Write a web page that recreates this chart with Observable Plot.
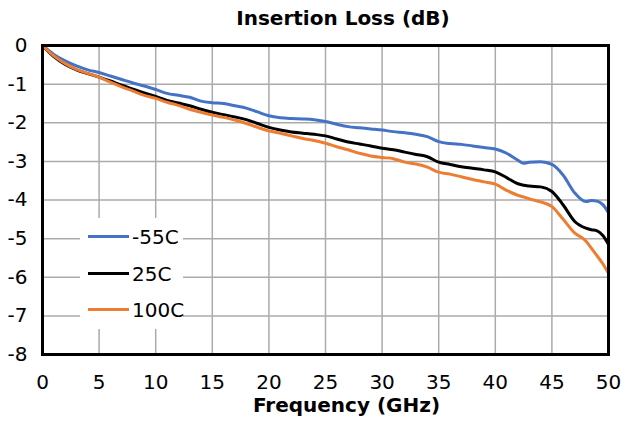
<!DOCTYPE html>
<html>
<head>
<meta charset="utf-8">
<script src="https://cdn.jsdelivr.net/npm/d3@7"></script>
<script src="https://cdn.jsdelivr.net/npm/@observablehq/plot@0.6"></script>
<style>
  html, body { margin: 0; padding: 0; background: white; }
  #wrap { position: relative; width: 625px; height: 423px; font-family: "DejaVu Sans", sans-serif; color: black; }
  #title { position: absolute; top: 8px; left: 0; width: 625px; text-align: center; font-weight: bold; font-size: 20px; line-height: 20px; padding-left: 61px; box-sizing: border-box; }
  #xlabel { position: absolute; top: 395px; left: 0; width: 625px; text-align: center; font-weight: bold; font-size: 20px; line-height: 20px; padding-left: 68px; box-sizing: border-box; }
  #chart { position: absolute; top: 30px; left: 0; }
  #legend { position: absolute; left: 80px; top: 218px; width: 103px; height: 111px; background: white; }
  .row { position: absolute; left: 0; width: 103px; height: 0; }
  .swatch { position: absolute; left: 8px; width: 41px; height: 3px; top: -1.5px; }
  .lab { position: absolute; left: 52px; top: -9.6px; font-size: 20px; line-height: 20px; white-space: nowrap; }
</style>
</head>
<body>
<div id="wrap">
  <div id="title"></div>
  <div id="chart"></div>
  <div id="xlabel"></div>
  <div id="legend"></div>
</div>
<script>
const titleText = "Insertion Loss (dB)";
const xLabelText = "Frequency (GHz)";
const seriesNames = ["-55C", "25C", "100C"];
const seriesColors = ["#4472C4", "#000000", "#ED7D31"];
const xTicks = [0, 5, 10, 15, 20, 25, 30, 35, 40, 45, 50];
const yTicks = [0, -1, -2, -3, -4, -5, -6, -7, -8];

const freq = [0,1,2,3,4,5,6,7,8,9,10,11,12,13,14,15,16,17,18,19,20,21,22,23,24,25,26,27,28,29,30,31,32,33,34,35,36,37,38,39,40,41,42,42.5,43,44,45,46,47,48,48.5,49,49.5,50];

const lossM55 = [0,-0.23,-0.40,-0.53,-0.63,-0.70,-0.79,-0.88,-0.97,-1.05,-1.14,-1.24,-1.29,-1.34,-1.44,-1.48,-1.50,-1.56,-1.62,-1.72,-1.82,-1.87,-1.89,-1.90,-1.92,-1.97,-2.04,-2.10,-2.13,-2.16,-2.19,-2.23,-2.26,-2.30,-2.36,-2.49,-2.54,-2.56,-2.60,-2.64,-2.68,-2.79,-2.97,-3.05,-3.02,-3.01,-3.08,-3.36,-3.81,-4.04,-4.01,-4.03,-4.12,-4.33];

const loss25 = [0,-0.29,-0.49,-0.63,-0.73,-0.82,-0.92,-1.03,-1.13,-1.23,-1.32,-1.42,-1.49,-1.56,-1.65,-1.73,-1.79,-1.85,-1.92,-2.02,-2.12,-2.19,-2.24,-2.27,-2.30,-2.34,-2.42,-2.50,-2.55,-2.60,-2.66,-2.70,-2.76,-2.82,-2.88,-3.02,-3.08,-3.14,-3.18,-3.22,-3.27,-3.42,-3.58,-3.62,-3.64,-3.66,-3.78,-4.13,-4.55,-4.73,-4.77,-4.80,-4.92,-5.15];

const loss100 = [0,-0.27,-0.47,-0.62,-0.72,-0.82,-0.95,-1.07,-1.18,-1.29,-1.37,-1.47,-1.55,-1.65,-1.73,-1.80,-1.86,-1.93,-2.02,-2.12,-2.21,-2.27,-2.34,-2.41,-2.46,-2.53,-2.62,-2.70,-2.79,-2.86,-2.90,-2.93,-3.02,-3.07,-3.15,-3.28,-3.33,-3.40,-3.47,-3.53,-3.59,-3.75,-3.88,-3.92,-3.97,-4.05,-4.17,-4.50,-4.85,-5.06,-5.25,-5.45,-5.65,-5.90];

const seriesValues = [lossM55, loss25, loss100];

const rows = [];
seriesNames.forEach((name, s) => {
  freq.forEach((f, i) => rows.push({series: name, f, v: seriesValues[s][i]}));
});

document.getElementById("title").textContent = titleText;
document.getElementById("xlabel").textContent = xLabelText;

const chart = Plot.plot({
  width: 625,
  height: 363,
  marginTop: 15,
  marginBottom: 39,
  marginLeft: 42,
  marginRight: 17,
  style: {fontFamily: "DejaVu Sans", fontSize: "20px", color: "black", background: "white", overflow: "visible"},
  x: {domain: [0, 50]},
  y: {domain: [-8, 0]},
  color: {domain: seriesNames, range: seriesColors},
  marks: [
    Plot.gridX(xTicks, {stroke: "#ababab", strokeOpacity: 1, strokeWidth: 1.5}),
    Plot.gridY(yTicks, {stroke: "#ababab", strokeOpacity: 1, strokeWidth: 1.5}),
    Plot.axisX(xTicks, {tickSize: 0, tickPadding: 20, tickFormat: d => String(d), label: null, fill: "black"}),
    Plot.axisY(yTicks, {tickSize: 0, tickPadding: 15, tickFormat: d => String(d), label: null, fill: "black"}),
    Plot.line(rows, {x: "f", y: "v", z: "series", stroke: "series", strokeWidth: 3, curve: "monotone-x"}),
    Plot.frame({stroke: "black", strokeWidth: 3})
  ]
});
document.getElementById("chart").appendChild(chart);

const legend = document.getElementById("legend");
const rowCenters = [18.7, 55.3, 91.3];
seriesNames.forEach((name, i) => {
  const r = document.createElement("div");
  r.className = "row";
  r.style.top = rowCenters[i] + "px";
  const sw = document.createElement("div");
  sw.className = "swatch";
  sw.style.background = seriesColors[i];
  const lb = document.createElement("div");
  lb.className = "lab";
  lb.textContent = name;
  r.appendChild(sw);
  r.appendChild(lb);
  legend.appendChild(r);
});
</script>
</body>
</html>
